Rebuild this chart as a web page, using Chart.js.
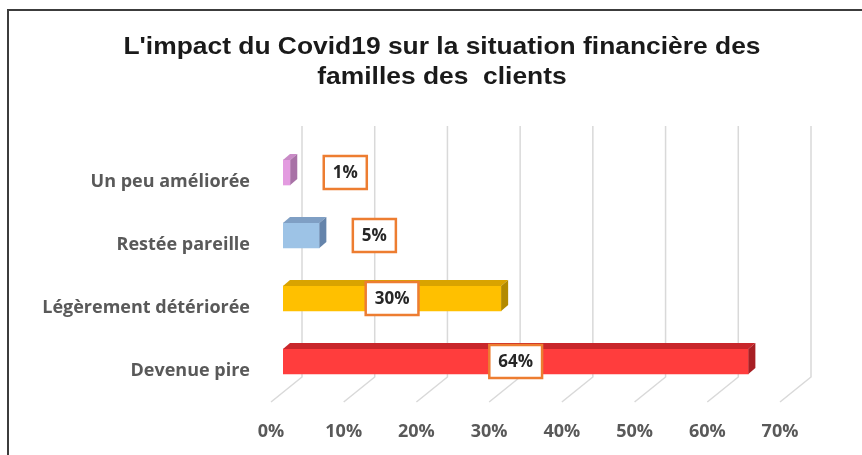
<!DOCTYPE html>
<html>
<head>
<meta charset="utf-8">
<script src="https://cdn.jsdelivr.net/npm/chart.js@4"></script>
<style>
  html, body { margin: 0; padding: 0; background: #fff; overflow: hidden; }
  canvas { display: block; }
</style>
</head>
<body>
<canvas id="impact-chart" width="862" height="455"></canvas>
<script>
// Data
const categories = ['Un peu améliorée', 'Restée pareille', 'Légèrement détériorée', 'Devenue pire'];
const shares = [1, 5, 30, 64];
const titleLines = ["L'impact du Covid19 sur la situation financière des", 'familles des  clients'];

// Bar colours: front face, top face, right face
const frontColors = ['#E39BE0', '#9DC3E6', '#FFC000', '#FF3D3D'];
const topColors = ['#C98AC6', '#7F9FC4', '#D9A300', '#C8262B'];
const sideColors = ['#A872A6', '#6584AB', '#B38A00', '#A81F24'];

const labelFont = '"Open Sans", sans-serif';

// Frame round the chart
const framePlugin = {
  id: 'frame',
  beforeDraw(chart) {
    const ctx = chart.ctx;
    ctx.save();
    ctx.fillStyle = '#fff';
    ctx.fillRect(0, 0, chart.width, chart.height);
    ctx.strokeStyle = '#3c3c3c';
    ctx.lineWidth = 2;
    ctx.beginPath();
    ctx.moveTo(8, chart.height);
    ctx.lineTo(8, 10);
    ctx.lineTo(chart.width, 10);
    ctx.stroke();
    ctx.restore();
  }
};

// Title, a little wider than plain Arial bold like the original
const titlePlugin = {
  id: 'titleText',
  afterDraw(chart) {
    const ctx = chart.ctx;
    ctx.save();
    ctx.translate(442, 0);
    ctx.scale(1.1, 1);
    ctx.font = 'bold 24px "Liberation Sans", Arial, sans-serif';
    ctx.fillStyle = '#1a1a1a';
    ctx.textAlign = 'center';
    ctx.textBaseline = 'alphabetic';
    titleLines.forEach((line, i) => ctx.fillText(line, 0, 54 + i * 30));
    ctx.restore();
  }
};

// Back wall and floor grid lines, like a 3D Excel chart
const wallGridPlugin = {
  id: 'wallGrid',
  beforeDatasetsDraw(chart) {
    const { ctx, chartArea, scales } = chart;
    const xs = scales.x;
    ctx.save();
    ctx.strokeStyle = '#d9d9d9';
    ctx.lineWidth = 1.5;
    xs.ticks.forEach(t => {
      const px = xs.getPixelForValue(t.value);
      ctx.beginPath();
      ctx.moveTo(px + 19, chartArea.top - 15);
      ctx.lineTo(px + 19, chartArea.bottom - 16);
      ctx.lineTo(px - 12, chartArea.bottom + 9);
      ctx.stroke();
    });
    ctx.restore();
  }
};

// Top and right faces of each bar
const depthPlugin = {
  id: 'depth',
  afterDatasetsDraw(chart) {
    const ctx = chart.ctx;
    const dx = 7, dy = 6;
    chart.getDatasetMeta(0).data.forEach((bar, i) => {
      const { x, y, base, height } = bar.getProps(['x', 'y', 'base', 'height'], true);
      const top = y - height / 2, bottom = y + height / 2;
      ctx.save();
      ctx.fillStyle = topColors[i];
      ctx.beginPath();
      ctx.moveTo(base, top);
      ctx.lineTo(base + dx, top - dy);
      ctx.lineTo(x + dx, top - dy);
      ctx.lineTo(x, top);
      ctx.closePath();
      ctx.fill();
      ctx.fillStyle = sideColors[i];
      ctx.beginPath();
      ctx.moveTo(x, top);
      ctx.lineTo(x + dx, top - dy);
      ctx.lineTo(x + dx, bottom - dy);
      ctx.lineTo(x, bottom);
      ctx.closePath();
      ctx.fill();
      ctx.restore();
    });
  }
};

// Value labels in white boxes with an orange border
const boxLabelPlugin = {
  id: 'boxLabels',
  afterDatasetsDraw(chart) {
    const ctx = chart.ctx;
    const values = chart.data.datasets[0].data;
    chart.getDatasetMeta(0).data.forEach((bar, i) => {
      const { x, y, base } = bar.getProps(['x', 'y', 'base'], true);
      const text = values[i] + '%';
      const cx = values[i] >= 10 ? (x + base) / 2 : x + 55;
      ctx.save();
      ctx.font = 'bold 17px ' + labelFont;
      const w = ctx.measureText(text).width + 18;
      const h = 33;
      ctx.fillStyle = '#fff';
      ctx.fillRect(cx - w / 2, y - h / 2, w, h);
      ctx.strokeStyle = '#ED7D31';
      ctx.lineWidth = 2.5;
      ctx.strokeRect(cx - w / 2, y - h / 2, w, h);
      ctx.fillStyle = '#262626';
      ctx.textAlign = 'center';
      ctx.textBaseline = 'middle';
      ctx.fillText(text, cx, y + 1);
      ctx.restore();
    });
  }
};

new Chart(document.getElementById('impact-chart'), {
  type: 'bar',
  data: {
    labels: categories,
    datasets: [{
      data: shares,
      backgroundColor: frontColors,
      borderWidth: 0,
      barThickness: 25
    }]
  },
  options: {
    indexAxis: 'y',
    responsive: false,
    animation: false,
    devicePixelRatio: 1,
    layout: { padding: { left: 20, right: 70, top: 141, bottom: 12 } },
    plugins: {
      legend: { display: false },
      tooltip: { enabled: false },
      title: { display: false }
    },
    scales: {
      x: {
        min: 0,
        max: 70,
        grid: { display: false, drawTicks: false },
        border: { display: false },
        ticks: {
          stepSize: 10,
          callback: v => v + '%',
          color: '#595959',
          font: { family: labelFont, size: 18, weight: 'bold' },
          labelOffset: -12,
          padding: 28
        },
        afterFit(scale) { scale.height = 50; }
      },
      y: {
        grid: { display: false, drawTicks: false },
        border: { display: false },
        ticks: {
          color: '#595959',
          font: { family: labelFont, size: 18, weight: 'bold' },
          padding: 33,
          labelOffset: 9
        },
        afterFit(scale) { scale.width = 263; }
      }
    }
  },
  plugins: [framePlugin, wallGridPlugin, depthPlugin, boxLabelPlugin, titlePlugin]
});
</script>
</body>
</html>
